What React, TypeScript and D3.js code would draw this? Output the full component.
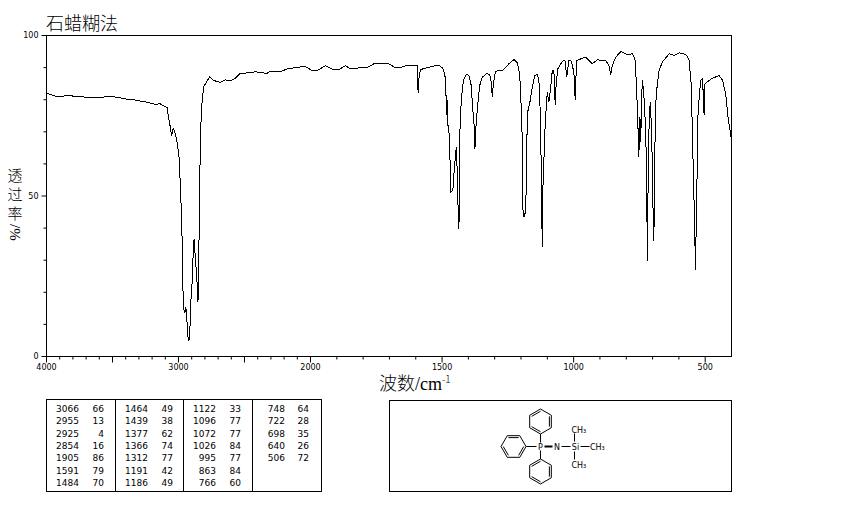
import React, { useEffect, useRef } from 'react';
import * as d3 from 'd3';

const title = '石蜡糊法';
const yLabelChars = ['透', '过', '率'];

// spectrum: [wavenumber, %T]
const functionalRegion: [number, number][] = [
  [4000, 82.1], [3935, 81.1], [3885, 81], [3834, 81.4], [3784, 81], [3746, 81.1], [3695, 80.6], [3594, 80.8],
  [3518, 80.9], [3457, 80.8], [3419, 80.3], [3344, 80], [3238, 79.2], [3177, 78.6], [3139, 78.7], [3087, 77.6],
  [3076, 74.5], [3063, 71.7], [3053, 68.8], [3040, 71], [3028, 69.9], [3008, 66.3], [2993, 61], [2985, 51.7],
  [2980, 46.8], [2972, 35.5], [2967, 21.3], [2959, 14.5], [2951, 13.6], [2947, 15.4], [2939, 14.3], [2934, 9],
  [2926, 5], [2917, 5.5], [2911, 11.2], [2906, 17.4], [2896, 23.7], [2891, 29.9], [2883, 36.1], [2879, 36.4],
  [2873, 30.4], [2866, 27.3], [2858, 22.1], [2853, 16.9], [2848, 20.6], [2845, 35.2], [2841, 45.5], [2837, 60.1],
  [2830, 72.6], [2822, 78.8], [2810, 84.1], [2797, 84.9], [2765, 87.1], [2734, 86], [2684, 85.4], [2646, 86.2],
  [2608, 85.9], [2570, 86.7], [2532, 88.2], [2456, 88.4], [2418, 88.7], [2329, 88.2], [2304, 88.9], [2228, 88.7],
  [2178, 89.6], [2077, 90.2], [2039, 90.3],
];

const midRegion: [number, number][] = [
  [1994, 89.1], [1975, 89.1], [1943, 90.6], [1911, 89.3], [1892, 89.4], [1867, 90.6], [1848, 89.6], [1816, 89.9],
  [1797, 90.2], [1784, 90], [1759, 91.2], [1702, 91.2], [1677, 89.9], [1658, 90], [1639, 90.6], [1594, 90.6],
  [1591, 82], [1588, 86.5], [1582, 89.4], [1563, 89.8], [1537, 90.4], [1512, 90.7], [1497, 89.8], [1489, 87.5],
  [1484, 79.8], [1483, 75.1], [1480, 80], [1479, 72.7], [1474, 70.4], [1470, 62.1], [1467, 51.3], [1459, 51.7],
  [1454, 57.9], [1446, 65.2], [1442, 56.9], [1440, 48.6], [1436, 39.8], [1433, 53.3], [1432, 70.4], [1427, 79.8],
  [1419, 86], [1408, 87.9], [1398, 87.5], [1389, 84.4], [1384, 77.7], [1379, 73.5], [1375, 64.7], [1373, 69.5],
  [1366, 77.2], [1357, 84.4], [1347, 87], [1328, 88.3], [1318, 87.5], [1313, 85.5], [1309, 80.8], [1305, 85],
  [1297, 88.9], [1269, 89.1], [1246, 91.2], [1227, 92.5], [1214, 91.5], [1205, 88], [1198, 75.6], [1194, 63.1],
  [1193, 46], [1189, 43.4], [1183, 45], [1180, 52.7], [1176, 75.7], [1167, 78.8], [1157, 83.9], [1148, 87.5],
  [1138, 87.8], [1132, 86], [1125, 72.6], [1123, 53.9], [1119, 34], [1117, 51.7], [1109, 70.4], [1104, 77.7],
  [1100, 82.3], [1094, 79.2], [1087, 83.9], [1081, 89.1], [1075, 89.1], [1070, 78.2], [1066, 85.5], [1060, 89.6],
];

const fingerprintRegion: [number, number][] = [
  [1043, 92], [1033, 92.2], [1026, 87], [1018, 92.2], [1009, 92], [999, 88.6], [994, 79.8], [989, 92.2],
  [967, 92.9], [954, 93.2], [929, 91.2], [910, 92.4], [878, 92.2], [866, 90.7], [859, 87.8], [853, 90.7],
  [840, 93.2], [821, 95], [796, 94], [777, 94.3], [767, 92.7], [762, 86], [757, 75.7], [752, 62.1],
  [749, 74.5], [747, 67.3], [746, 74.1], [745, 66.8], [743, 75], [741, 80.8], [739, 86], [734, 82.9],
  [726, 70.4], [722, 51.7], [720, 29.9], [716, 61], [712, 76.6], [708, 79.2], [703, 67.9], [697, 40.3],
  [695, 36.1], [692, 61], [688, 78.7], [682, 84.9], [675, 89.1], [663, 91.7], [637, 94.3], [618, 93.8],
  [599, 94.6], [574, 94.1], [562, 92.7], [553, 84.9], [549, 71], [540, 40.3], [537, 26.8], [532, 50.8],
  [527, 76.6], [517, 86], [510, 86.5], [504, 75.1], [501, 84.9], [485, 86], [472, 86.7], [447, 87.5],
  [434, 86], [422, 81.8], [413, 74.5], [400, 67.3],
];

const xLabelled = [4000, 3000, 2000, 1500, 1000, 500];
const xMajor = [4000, 3500, 3000, 2500, 2000, 1500, 1000, 500];
const yLabelled = [100, 50, 0];
const yMinor = [90, 80, 70, 60, 40, 30, 20, 10];

// peak table, one list per column
const peakColumns: [string, string][][] = [
  [['3066', '66'], ['2955', '13'], ['2925', '4'], ['2854', '16'], ['1905', '86'], ['1591', '79'], ['1484', '70']],
  [['1464', '49'], ['1439', '38'], ['1377', '62'], ['1366', '74'], ['1312', '77'], ['1191', '42'], ['1186', '49']],
  [['1122', '33'], ['1096', '77'], ['1072', '77'], ['1026', '84'], ['995', '77'], ['863', '84'], ['766', '60']],
  [['748', '64'], ['722', '28'], ['698', '35'], ['640', '26'], ['506', '72']],
];

const smallFont = '"DejaVu Sans", sans-serif';
const cjkFont = '"Noto Sans CJK SC", sans-serif';

export default function App() {
  const svgRef = useRef<SVGSVGElement>(null);

  useEffect(() => {
    if (!svgRef.current) return;
    const svg = d3.select(svgRef.current);
    svg.selectAll('*').remove();

    const left = 46.5, right = 731.5, top = 35.5, bottom = 356.5;

    // the wavenumber axis changes scale at 2000
    const x = d3.scaleLinear().domain([4000, 2000, 400]).range([left, 310.5, right]);
    const y = d3.scaleLinear().domain([0, 100]).range([bottom, top]);

    svg.append('rect')
      .attr('x', left).attr('y', top)
      .attr('width', right - left).attr('height', bottom - top)
      .attr('fill', 'none').attr('stroke', '#000');

    // x axis
    const xMinor = [...d3.range(4000, 2000, -100), ...d3.range(2000, 400, -100)]
      .filter(v => !xMajor.includes(v));
    svg.append('g')
      .attr('transform', `translate(0,${bottom})`)
      .call(d3.axisBottom(x).offset(0).tickValues(xMinor).tickSize(3).tickFormat(() => ''))
      .call(g => g.select('.domain').remove());
    const xAxis = svg.append('g')
      .attr('transform', `translate(0,${bottom})`)
      .call(d3.axisBottom(x).offset(0).tickValues(xMajor).tickSize(6).tickPadding(2)
        .tickFormat(d => (xLabelled.includes(+d) ? String(d) : '')));
    xAxis.select('.domain').remove();
    xAxis.selectAll('text').attr('font-family', smallFont).attr('font-size', 8).attr('fill', '#000');

    // y axis
    svg.append('g')
      .attr('transform', `translate(${left},0)`)
      .call(d3.axisLeft(y).offset(0).tickValues(yMinor).tickSize(3).tickFormat(() => ''))
      .call(g => g.select('.domain').remove());
    const yAxis = svg.append('g')
      .attr('transform', `translate(${left},0)`)
      .call(d3.axisLeft(y).offset(0).tickValues(yLabelled).tickSize(5).tickPadding(3));
    yAxis.select('.domain').remove();
    yAxis.selectAll('text').attr('font-family', smallFont).attr('font-size', 8).attr('fill', '#000');

    // spectrum
    const line = d3.line<[number, number]>()
      .x(d => x(d[0]))
      .y(d => y(d[1]));
    svg.append('path')
      .datum([...functionalRegion, ...midRegion, ...fingerprintRegion])
      .attr('d', line)
      .attr('fill', 'none')
      .attr('stroke', '#000')
      .attr('stroke-width', 1)
      .attr('shape-rendering', 'crispEdges');

    // titles
    svg.append('text')
      .attr('x', 46).attr('y', 30)
      .attr('font-family', cjkFont).attr('font-size', 18).attr('font-weight', 300)
      .text(title);

    const xTitle = svg.append('text')
      .attr('x', 379).attr('y', 390)
      .attr('font-family', cjkFont).attr('font-size', 18).attr('font-weight', 300);
    xTitle.append('tspan').text('波数');
    xTitle.append('tspan').attr('font-family', '"Liberation Serif", serif').text('/cm');
    xTitle.append('tspan').attr('font-size', 10).attr('dy', -7).text('-1');

    // stacked y title, with the unit turned on its side
    yLabelChars.forEach((c, i) => {
      svg.append('text')
        .attr('x', 15).attr('y', 181 + i * 19)
        .attr('text-anchor', 'middle')
        .attr('font-family', cjkFont).attr('font-size', 15).attr('font-weight', 300)
        .text(c);
    });
    svg.append('text')
      .attr('transform', 'translate(10,224) rotate(90)')
      .attr('font-family', '"Liberation Serif", serif').attr('font-size', 15)
      .text('/%');

    // peak table
    const dividers = [115.5, 183.5, 252.5];
    svg.append('rect')
      .attr('x', 46.5).attr('y', 399.5).attr('width', 275).attr('height', 92)
      .attr('fill', 'none').attr('stroke', '#000');
    svg.selectAll('line.divider').data(dividers).enter().append('line')
      .attr('class', 'divider')
      .attr('x1', d => d).attr('x2', d => d)
      .attr('y1', 399.5).attr('y2', 491.5)
      .attr('stroke', '#000');

    const wnEnd = [79, 148, 216, 285];
    const valueEnd = [104, 173, 241, 309];
    const rowY = d3.scaleLinear().domain([0, 6]).range([412, 486]);
    peakColumns.forEach((col, ci) => {
      col.forEach((row, ri) => {
        row.forEach((t, k) => {
          svg.append('text')
            .attr('x', k === 0 ? wnEnd[ci] : valueEnd[ci])
            .attr('y', rowY(ri))
            .attr('text-anchor', 'end')
            .attr('font-family', smallFont).attr('font-size', 9)
            .text(t);
        });
      });
    });

    // structure box
    svg.append('rect')
      .attr('x', 389.5).attr('y', 400.5).attr('width', 342).attr('height', 91)
      .attr('fill', 'none').attr('stroke', '#000');

    const mol = svg.append('g').attr('stroke', '#000').attr('fill', 'none');
    const ring = (cx: number, cy: number, start: number) => {
      const pts = d3.range(6).map(i => {
        const a = start + (i * Math.PI) / 3;
        return [cx + 12.5 * Math.cos(a), cy + 12.5 * Math.sin(a)] as [number, number];
      });
      mol.append('path').attr('d', d3.line()(pts) + 'Z');
      // double bonds
      [0, 2, 4].forEach(i => {
        const p = pts[i], q = pts[(i + 1) % 6];
        const inner = (v: [number, number]) => [cx + (v[0] - cx) * 0.82, cy + (v[1] - cy) * 0.82];
        const a = inner(p), b = inner(q);
        mol.append('line').attr('x1', a[0]).attr('y1', a[1]).attr('x2', b[0]).attr('y2', b[1]);
      });
    };
    ring(540.5, 421.5, Math.PI / 2);
    ring(540.5, 471.5, Math.PI / 2);
    ring(513.5, 446.5, 0);

    const px = 540.5, py = 446.5, sx = 574.5;
    const bonds: [number, number, number, number][] = [
      [px, py - 4, px, py - 12.5],
      [px, py + 4, px, py + 12.5],
      [px - 4, py, px - 14.5, py],
      [sx + 6, py, sx + 15, py],
      [sx - 13, py, sx - 4, py],
      [sx, py - 5, sx, py - 13],
      [sx, py + 5, sx, py + 13],
    ];
    bonds.forEach(b => mol.append('line').attr('x1', b[0]).attr('y1', b[1]).attr('x2', b[2]).attr('y2', b[3]));
    mol.append('line').attr('x1', px + 4).attr('y1', py).attr('x2', px + 12).attr('y2', py).attr('stroke-width', 2);

    const atom = (tx: number, ty: number, t: string, anchor = 'middle') =>
      svg.append('text')
        .attr('x', tx).attr('y', ty + 3)
        .attr('text-anchor', anchor)
        .attr('font-family', smallFont).attr('font-size', 8)
        .text(t);
    atom(px, py, 'P');
    atom(557, py, 'N');
    atom(sx + 1, py, 'Si');
    atom(sx - 3, 429.5, 'CH₃', 'start');
    atom(sx - 3, 464.5, 'CH₃', 'start');
    atom(590, py, 'CH₃', 'start');
  }, []);

  return <svg ref={svgRef} width={850} height={510} style={{ position: 'absolute', left: 0, top: 0, background: '#fff' }} />;
}
